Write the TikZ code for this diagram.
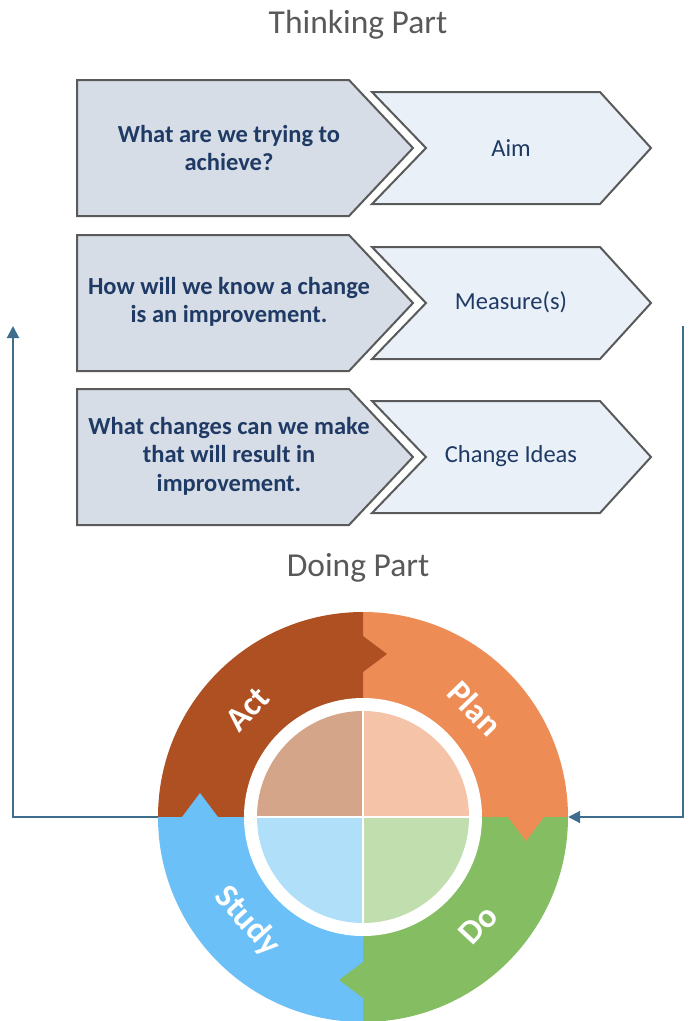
\documentclass[tikz,border=0pt]{standalone}
\usepackage{fontspec}
\setmainfont{Carlito}
\usetikzlibrary{arrows.meta}
\definecolor{titlegray}{HTML}{595959}
\definecolor{navy}{HTML}{1F3A64}
\definecolor{edgegray}{HTML}{5A5A5A}
\definecolor{qfill}{HTML}{D6DDE6}
\definecolor{afill}{HTML}{E9F0F8}
\definecolor{connblue}{HTML}{3E6D8E}
\definecolor{actc}{HTML}{AE5021}
\definecolor{planc}{HTML}{EE8C56}
\definecolor{doc}{HTML}{85BD62}
\definecolor{studyc}{HTML}{6CC0F8}
\definecolor{actin}{HTML}{D4A588}
\definecolor{planin}{HTML}{F5C3A7}
\definecolor{doin}{HTML}{C0DEAE}
\definecolor{studyin}{HTML}{B0DFFA}
\begin{document}
\begin{tikzpicture}[x=1pt,y=-1pt,
  titletext/.style={text=titlegray, font=\fontsize{33.5}{38}\selectfont},
  question/.style={text=navy, align=center, font=\bfseries\fontsize{24.5}{28.5}\selectfont},
  answer/.style={text=navy, align=center, font=\fontsize{24.5}{28.5}\selectfont},
  qshape/.style={fill=qfill, draw=edgegray, line width=2pt, line join=miter},
  ashape/.style={fill=afill, draw=edgegray, line width=2pt, line join=miter},
  conn/.style={draw=connblue, line width=2pt, -{Triangle[length=12pt,width=12pt]}},
  ringlabel/.style={text=white, inner sep=0pt, font=\bfseries\fontsize{34}{38}\selectfont}]
\path[use as bounding box] (0,0) rectangle (692,1021);

\node[titletext] (thinking) at (358,25) {Thinking Part};
\node[titletext] (doing) at (358,568) {Doing Part};

% row 1
\path[qshape] (77,80) -- (349,80) -- (413,148) -- (349,216) -- (77,216) -- cycle;
\path[ashape] (372,92) -- (600,92) -- (651,148) -- (600,204) -- (372,204) -- (426,148) -- cycle;
\node[question] (q1) at (229,148) {What are we trying to\\achieve?};
\node[answer] (a1) at (511,148) {Aim};

% row 2
\path[qshape] (77,235) -- (349,235) -- (413,303) -- (349,371) -- (77,371) -- cycle;
\path[ashape] (372,247) -- (600,247) -- (651,303) -- (600,359) -- (372,359) -- (426,303) -- cycle;
\node[question] (q2) at (229,302) {How will we know a change\\is an improvement.};
\node[answer] (a2) at (511,302) {Measure(s)};

% row 3
\path[qshape] (77,389) -- (349,389) -- (413,457) -- (349,525) -- (77,525) -- cycle;
\path[ashape] (372,401) -- (600,401) -- (651,457) -- (600,513) -- (372,513) -- (426,457) -- cycle;
\node[question] (q3) at (229,456) {What changes can we make\\that will result in\\improvement.};
\node[answer] (a3) at (511,456) {Change Ideas};

% cycle
\node[circle, minimum size=410pt, inner sep=0pt] (cycle) at (363,817) {};
\begin{scope}[shift={(363,817)}, yscale=-1]
  \fill[planc] (0,0) -- (0:205) arc (0:90:205) -- cycle;
  \fill[actc] (0,0) -- (90:205) arc (90:180:205) -- cycle;
  \fill[studyc] (0,0) -- (180:205) arc (180:270:205) -- cycle;
  \fill[doc] (0,0) -- (270:205) arc (270:360:205) -- cycle;
  % notches
  \fill[actc] (-1,181) -- (0,181) -- (24,163) -- (0,145) -- (-1,145) -- cycle;
  \fill[planc] (145,1) -- (145,0) -- (163,-24) -- (181,0) -- (181,1) -- cycle;
  \fill[doc] (1,-145) -- (0,-145) -- (-24,-163) -- (0,-181) -- (1,-181) -- cycle;
  \fill[studyc] (-145,-1) -- (-145,0) -- (-163,24) -- (-181,0) -- (-181,-1) -- cycle;
  % inner
  \fill[white] (0,0) circle (119);
  \fill[planin] (0,0) -- (0:106) arc (0:90:106) -- cycle;
  \fill[actin] (0,0) -- (90:106) arc (90:180:106) -- cycle;
  \fill[studyin] (0,0) -- (180:106) arc (180:270:106) -- cycle;
  \fill[doin] (0,0) -- (270:106) arc (270:360:106) -- cycle;
  \draw[white, line width=1.5pt] (-107,0) -- (107,0) (0,-107) -- (0,107);
  % labels
  \node[ringlabel, rotate=47] (actlabel) at (137:158) {Act};
  \node[ringlabel, rotate=-46] (planlabel) at (44:156) {Plan};
  \node[ringlabel, rotate=-48] (studylabel) at (222:156) {Study};
  \node[ringlabel, rotate=47] (dolabel) at (-43:158) {Do};
\end{scope}

% connectors
\coordinate (leftend) at (13,326);
\coordinate (rightstart) at (683,326);
\draw[conn] (cycle.west) -| (leftend);
\draw[conn] (rightstart) |- (cycle.east);
\end{tikzpicture}
\end{document}
